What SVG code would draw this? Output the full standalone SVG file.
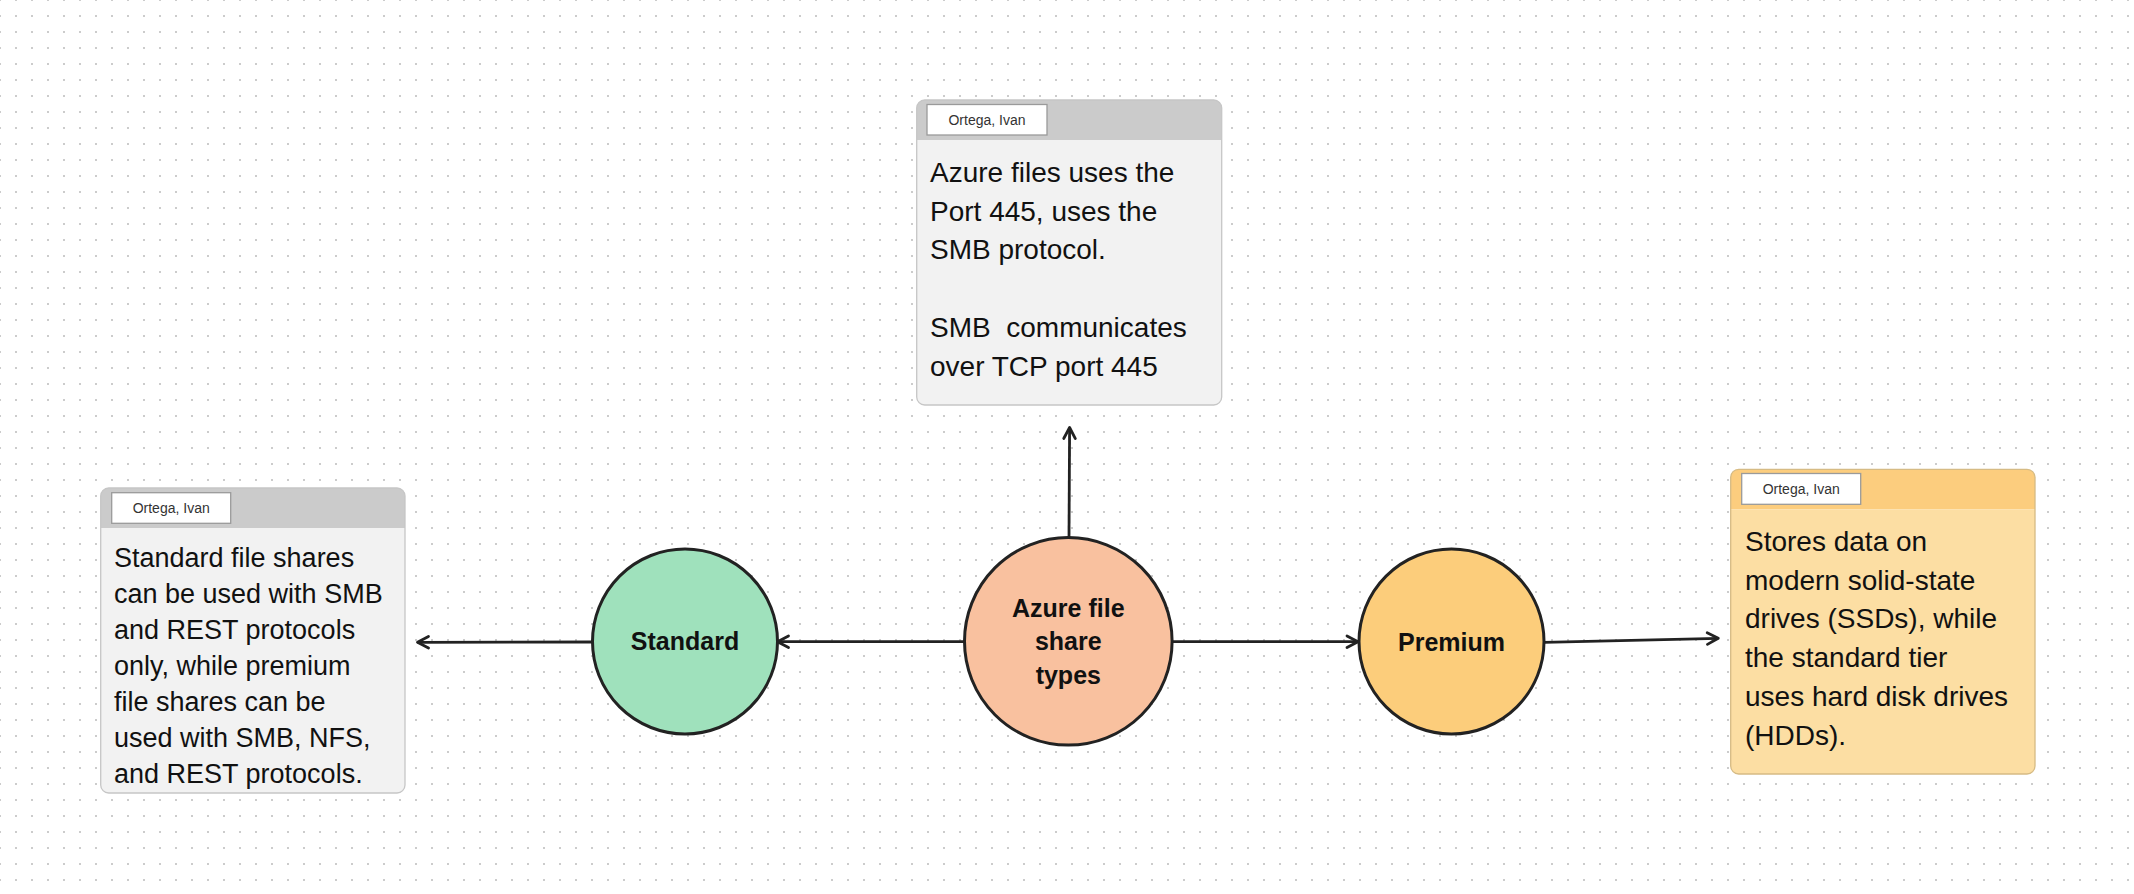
<svg xmlns="http://www.w3.org/2000/svg" width="2134" height="894" viewBox="0 0 2134 894">
<style>
.body{font-family:"Liberation Sans",Arial,sans-serif;font-size:28px;fill:#111;white-space:pre}
.bodys{font-family:"Liberation Sans",Arial,sans-serif;font-size:27px;fill:#111;white-space:pre}
.tagt{font-family:"Liberation Sans",Arial,sans-serif;font-size:14px;fill:#333;text-anchor:middle}
.lbl{font-family:"Liberation Sans",Arial,sans-serif;font-size:25px;font-weight:bold;fill:#111;text-anchor:middle}
.tag{fill:#fff;stroke:#9a9a9a;stroke-width:1.3}
.circ{stroke:#222;stroke-width:3}
.conn{stroke:#222;stroke-width:2.8;fill:none}
</style>
<defs>
<pattern id="dots" patternUnits="userSpaceOnUse" x="-1" y="-1" width="16" height="16">
<rect x="0" y="0" width="2" height="2" fill="#cccccc"/>
</pattern>
<marker id="arr" markerUnits="userSpaceOnUse" markerWidth="30" markerHeight="30" refX="0" refY="0" viewBox="-15 -15 30 30" orient="auto" overflow="visible">
<path d="M -11 -5.8 L 0 0 L -11 5.8" fill="none" stroke="#222" stroke-width="2.8" stroke-linecap="round" stroke-linejoin="round"/>
</marker>
</defs>
<rect width="2134" height="894" fill="#ffffff"/>
<rect width="2134" height="894" fill="url(#dots)"/>

<g id="connectors">
<line class="conn" x1="965" y1="641.7" x2="777.5" y2="641.7" marker-end="url(#arr)"/>
<line class="conn" x1="592.5" y1="642" x2="417.5" y2="642.3" marker-end="url(#arr)"/>
<line class="conn" x1="1069" y1="537.5" x2="1069.6" y2="427.5" marker-end="url(#arr)"/>
<line class="conn" x1="1172" y1="641.7" x2="1358" y2="641.7" marker-end="url(#arr)"/>
<line class="conn" x1="1544" y1="642.3" x2="1718.3" y2="638.3" marker-end="url(#arr)"/>
</g>

<g id="note-top">
<path d="M 916.7 140 V 108 a 8 8 0 0 1 8 -8 H 1213.7 a 8 8 0 0 1 8 8 V 140 Z" fill="#cbcbcb"/>
<path d="M 916.7 140 H 1221.7 V 397 a 8 8 0 0 1 -8 8 H 924.7 a 8 8 0 0 1 -8 -8 Z" fill="#f2f2f2"/>
<rect x="916.7" y="100" width="305" height="305" rx="8" fill="none" stroke="#c6c6c6" stroke-width="1.3"/>
<rect class="tag" x="927" y="104.5" width="120" height="30.5"/>
<text class="tagt" x="987" y="124.5">Ortega, Ivan</text>
<text class="body" x="930" y="181.7">Azure files uses the</text>
<text class="body" x="930" y="220.5">Port 445, uses the</text>
<text class="body" x="930" y="259.3">SMB protocol.</text>
<text class="body" x="930" y="336.9">SMB  communicates</text>
<text class="body" x="930" y="375.7">over TCP port 445</text>
</g>

<g id="note-left">
<path d="M 100.7 528 V 496 a 8 8 0 0 1 8 -8 H 397 a 8 8 0 0 1 8 8 V 528 Z" fill="#cbcbcb"/>
<path d="M 100.7 528 H 405 V 785 a 8 8 0 0 1 -8 8 H 108.7 a 8 8 0 0 1 -8 -8 Z" fill="#f2f2f2"/>
<rect x="100.7" y="488" width="304.3" height="305" rx="8" fill="none" stroke="#c6c6c6" stroke-width="1.3"/>
<rect class="tag" x="111.7" y="492.7" width="119" height="30.6"/>
<text class="tagt" x="171.2" y="512.8">Ortega, Ivan</text>
<text class="bodys" x="114" y="566.7">Standard file shares</text>
<text class="bodys" x="114" y="602.7">can be used with SMB</text>
<text class="bodys" x="114" y="638.7">and REST protocols</text>
<text class="bodys" x="114" y="674.7">only, while premium</text>
<text class="bodys" x="114" y="710.7">file shares can be</text>
<text class="bodys" x="114" y="746.7">used with SMB, NFS,</text>
<text class="bodys" x="114" y="782.7">and REST protocols.</text>
</g>

<g id="note-right">
<path d="M 1730.7 509.3 V 477.3 a 8 8 0 0 1 8 -8 H 2027 a 8 8 0 0 1 8 8 V 509.3 Z" fill="#fccd7e"/>
<path d="M 1730.7 509.3 H 2035 V 766 a 8 8 0 0 1 -8 8 H 1738.7 a 8 8 0 0 1 -8 -8 Z" fill="#fcdea3"/>
<rect x="1730.7" y="469.3" width="304.3" height="304.7" rx="8" fill="none" stroke="#d6bb84" stroke-width="1.3"/>
<rect class="tag" x="1741.7" y="473.5" width="119" height="30.8"/>
<text class="tagt" x="1801.2" y="493.8">Ortega, Ivan</text>
<text class="body" x="1745" y="550.7">Stores data on</text>
<text class="body" x="1745" y="589.5">modern solid-state</text>
<text class="body" x="1745" y="628.3">drives (SSDs), while</text>
<text class="body" x="1745" y="667.1">the standard tier</text>
<text class="body" x="1745" y="705.9">uses hard disk drives</text>
<text class="body" x="1745" y="744.7">(HDDs).</text>
</g>

<g id="node-standard">
<circle class="circ" cx="685" cy="641.5" r="92.5" fill="#9fe1bc"/>
<text class="lbl" x="685" y="650.3">Standard</text>
</g>

<g id="node-azure">
<circle class="circ" cx="1068.3" cy="641.3" r="103.8" fill="#f9c19f"/>
<text class="lbl" x="1068.3" y="616.7">Azure file</text>
<text class="lbl" x="1068.3" y="650.2">share</text>
<text class="lbl" x="1068.3" y="683.7">types</text>
</g>

<g id="node-premium">
<circle class="circ" cx="1451.5" cy="641.5" r="92.5" fill="#fccd7b"/>
<text class="lbl" x="1451.5" y="650.5">Premium</text>
</g>
</svg>
